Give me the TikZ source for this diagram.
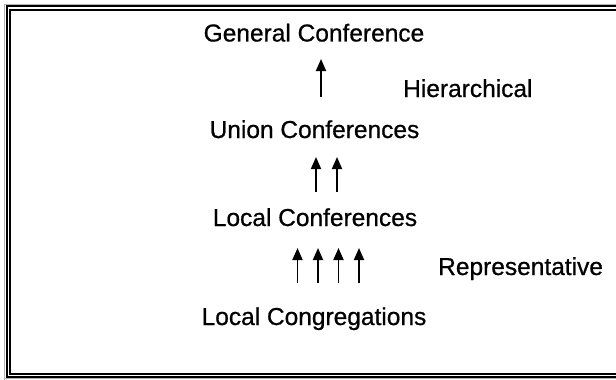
\documentclass[tikz,border=0pt]{standalone}
\usepackage{fontspec}
\setmainfont{Liberation Sans}[FakeBold=0.7]
\usetikzlibrary{arrows.meta}
\begin{document}
\begin{tikzpicture}[x=1pt,y=-1pt,
  lbl/.style={anchor=base,inner sep=0pt,font=\fontsize{24.5}{29}\selectfont},
  arr/.style={line width=1.8pt,-{Triangle[length=12pt,width=10pt]}},
  frame/.style={line width=2pt,black}]
\useasboundingbox[fill=white] (0,0) rectangle (616,380);
% frame
\draw[gray!60,line width=1pt] (4.5,380) -- (4.5,4.5) -- (616,4.5);
\draw[gray!60,line width=1pt] (4.5,378.8) -- (616,378.8);
\draw[frame] (616,5.8) -- (6.5,5.8) -- (6.5,377.2) -- (616,377.2);
\draw[frame] (616,10) -- (10.2,10) -- (10.2,374) -- (616,374);
% texts
\node[lbl] (gc) at (314,41.5) {General Conference};
\node[lbl] (uc) at (314.5,138) {Union Conferences};
\node[lbl] (lc) at (315,226) {Local Conferences};
\node[lbl] (lg) at (314,325) {Local Congregations};
\node[lbl,anchor=base west] (hi) at (403,97) {Hierarchical};
\node[lbl,anchor=base west] (re) at (438,275) {Representative};
% arrow end points
\coordinate (a1s) at (321,97);   \coordinate (a1e) at (321,59);
\coordinate (a2s) at (316,192);  \coordinate (a2e) at (316,157);
\coordinate (a3s) at (337,192);  \coordinate (a3e) at (337,157);
\coordinate (b1s) at (297.5,283); \coordinate (b1e) at (297.5,248);
\coordinate (b2s) at (318,283);   \coordinate (b2e) at (318,248);
\coordinate (b3s) at (338.5,283); \coordinate (b3e) at (338.5,248);
\coordinate (b4s) at (359,283);   \coordinate (b4e) at (359,248);
\draw[arr] (a1s) -- (a1e);
\draw[arr] (a2s) -- (a2e);
\draw[arr] (a3s) -- (a3e);
\draw[arr] (b1s) -- (b1e);
\draw[arr] (b2s) -- (b2e);
\draw[arr] (b3s) -- (b3e);
\draw[arr] (b4s) -- (b4e);
\end{tikzpicture}
\end{document}
